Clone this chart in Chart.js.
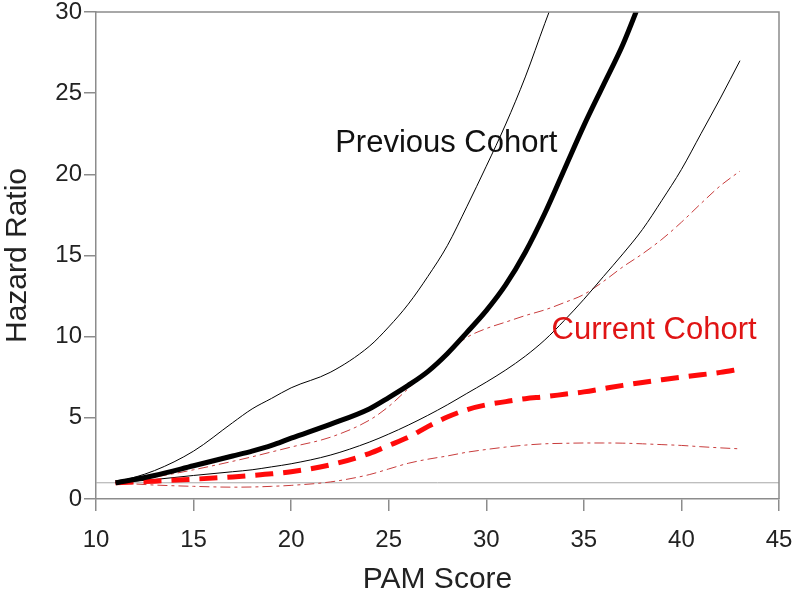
<!DOCTYPE html>
<html>
<head>
<meta charset="utf-8">
<script src="https://cdn.jsdelivr.net/npm/chart.js@4.4.1/dist/chart.umd.min.js"></script>
<style>
  body { margin: 0; background: #fff; }
  canvas { display: block; }
</style>
</head>
<body>
<canvas id="hrChart" width="800" height="601"></canvas>
<script>
// PAM score values (x)
const pamScore = [11, 13, 15, 17, 18, 19, 20, 22, 24, 25, 26, 27, 28, 29, 30, 31, 32, 33, 34, 35, 36, 37, 38, 39, 40, 41, 42, 43];

// Previous cohort: estimate and 95% limits
const prevHR    = [1.0, 1.45, 2.05, 2.65, 2.95, 3.3, 3.75, 4.6, 5.55, 6.25, 7.0, 7.85, 8.95, 10.25, 11.6, 13.2, 15.2, 17.6, 20.3, 23.0, 25.5, 28.0, 31.0, null, null, null, null, null];
const prevUpper = [1.0, 1.75, 2.95, 4.7, 5.55, 6.2, 6.85, 7.8, 9.4, 10.6, 12.0, 13.7, 15.6, 18.0, 20.5, 23.1, 26.0, 29.3, 32.5, null, null, null, null, null, null, null, null, null];
const prevLower = [1.0, 1.2, 1.45, 1.68, 1.8, 1.98, 2.17, 2.7, 3.5, 4.0, 4.55, 5.15, 5.8, 6.5, 7.2, 7.95, 8.8, 9.8, 11.0, 12.3, 13.7, 15.1, 16.6, 18.4, 20.3, 22.5, 24.7, 27.0];

// Current cohort: estimate and 95% limits
const currHR    = [1.0, 1.1, 1.22, 1.36, 1.45, 1.55, 1.68, 2.1, 2.8, 3.3, 3.8, 4.46, 5.05, 5.5, 5.8, 6.0, 6.18, 6.3, 6.45, 6.6, 6.8, 7.0, 7.18, 7.35, 7.5, 7.65, 7.8, 8.0];
const currUpper = [1.0, 1.35, 1.8, 2.32, 2.6, 2.9, 3.2, 3.8, 4.85, 5.7, 6.8, 7.9, 9.0, 9.95, 10.5, 10.9, 11.3, 11.65, 12.1, 12.6, 13.4, 14.3, 15.1, 16.0, 17.05, 18.2, 19.3, 20.2];
const currLower = [1.0, 0.86, 0.78, 0.73, 0.74, 0.78, 0.84, 1.05, 1.5, 1.85, 2.2, 2.45, 2.65, 2.88, 3.05, 3.2, 3.32, 3.4, 3.43, 3.45, 3.45, 3.44, 3.4, 3.35, 3.3, 3.22, 3.15, 3.09];

// reference line HR = 1
const refHR = 1;

const xTicks = [10, 15, 20, 25, 30, 35, 40, 45];
const yTicks = [0, 5, 10, 15, 20, 25, 30];

const FONT = 'Liberation Sans, Arial, sans-serif';
const AXIS_GRAY = '#8c8c8c';

function toPoints(ys) {
    return pamScore.map((x, i) => ({ x: x, y: ys[i] }));
}

// labels written onto the plot
const curveLabels = [
    { text: 'Previous Cohort', x: 27.95, y: 21.9, color: '#111111' },
    { text: 'Current Cohort', x: 38.6, y: 10.4, color: '#e01414' }
];

const framePlugin = {
    id: 'frameAndLabels',
    afterDraw(chart) {
        const ctx = chart.ctx;
        const a = chart.chartArea;
        ctx.save();
        ctx.strokeStyle = AXIS_GRAY;
        ctx.lineWidth = 1.5;
        ctx.beginPath();
        ctx.moveTo(a.left, a.top);
        ctx.lineTo(a.right, a.top);
        ctx.lineTo(a.right, a.bottom);
        ctx.stroke();
        ctx.font = '31px ' + FONT;
        ctx.textAlign = 'center';
        ctx.textBaseline = 'middle';
        curveLabels.forEach(l => {
            ctx.fillStyle = l.color;
            ctx.fillText(l.text, chart.scales.x.getPixelForValue(l.x), chart.scales.y.getPixelForValue(l.y));
        });
        ctx.restore();
    }
};

function band(label, ys, color, dash, order) {
    return {
        label: label, data: toPoints(ys), borderColor: color, borderWidth: 1,
        borderDash: dash, pointRadius: 0, cubicInterpolationMode: 'monotone', order: order
    };
}

new Chart(document.getElementById('hrChart').getContext('2d'), {
    type: 'line',
    data: {
        datasets: [
            { label: 'Previous Cohort', data: toPoints(prevHR), borderColor: '#000000', borderWidth: 5,
              pointRadius: 0, cubicInterpolationMode: 'monotone', order: 0 },
            { label: 'Current Cohort', data: toPoints(currHR), borderColor: '#ff0a0a', borderWidth: 5,
              borderDash: [18, 10], pointRadius: 0, cubicInterpolationMode: 'monotone', order: 0 },
            band('Previous upper', prevUpper, '#000000', [], 1),
            band('Previous lower', prevLower, '#000000', [], 1),
            band('Current upper', currUpper, '#c83c3c', [10, 4, 3, 4], 1),
            band('Current lower', currLower, '#c83c3c', [10, 4, 3, 4], 1),
            { label: 'HR = 1', data: [{ x: xTicks[0], y: refHR }, { x: xTicks[xTicks.length - 1], y: refHR }],
              borderColor: '#a8a8a8', borderWidth: 1, pointRadius: 0, order: 2 }
        ]
    },
    options: {
        responsive: false,
        animation: false,
        layout: { padding: { top: 12, right: 21, left: 0, bottom: 0 } },
        plugins: { legend: { display: false }, tooltip: { enabled: false } },
        scales: {
            x: {
                type: 'linear', min: 10, max: 45,
                afterBuildTicks: s => { s.ticks = xTicks.map(v => ({ value: v })); },
                afterFit: s => { s.height = 102; s.paddingLeft = 0; s.paddingRight = 0; },
                grid: { drawOnChartArea: false, drawTicks: true, tickLength: 12, color: AXIS_GRAY, lineWidth: 1.5 },
                border: { display: true, color: AXIS_GRAY, width: 1.5 },
                ticks: { color: '#222', padding: 17, maxRotation: 0, minRotation: 0,
                         font: { family: FONT, size: 24, lineHeight: 1 } },
                title: { display: true, text: 'PAM Score', color: '#222', padding: { top: 0, bottom: 3 },
                         font: { family: FONT, size: 30 } }
            },
            y: {
                type: 'linear', min: 0, max: 30,
                afterBuildTicks: s => { s.ticks = yTicks.map(v => ({ value: v })); },
                afterFit: s => { s.width = 96; s.paddingTop = 0; s.paddingBottom = 0; },
                grid: { drawOnChartArea: false, drawTicks: true, tickLength: 12, color: AXIS_GRAY, lineWidth: 1.5 },
                border: { display: true, color: AXIS_GRAY, width: 1.5 },
                ticks: { color: '#222', padding: 2, font: { family: FONT, size: 24, lineHeight: 1 } },
                title: { display: true, text: 'Hazard Ratio', color: '#222', padding: { top: 0, bottom: 0 },
                         font: { family: FONT, size: 30 } }
            }
        }
    },
    plugins: [framePlugin]
});
</script>
</body>
</html>
